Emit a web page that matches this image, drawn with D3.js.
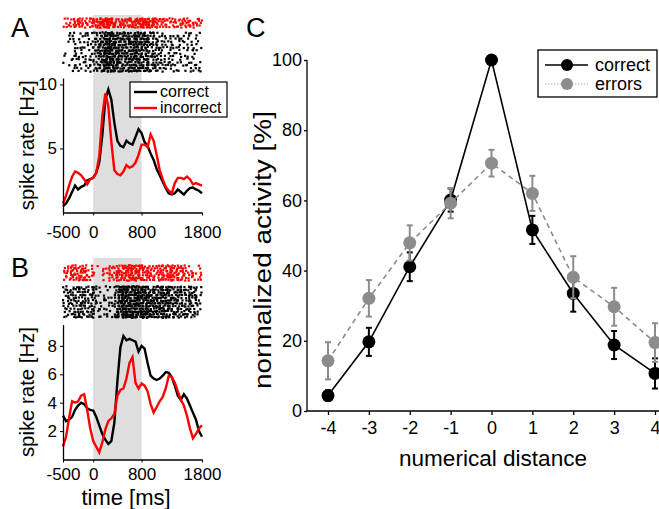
<!DOCTYPE html>
<html>
<head>
<meta charset="utf-8">
<script src="https://cdn.jsdelivr.net/npm/d3@7"></script>
<style>
body{margin:0;background:#fff;}
svg{display:block;font-family:"Liberation Sans",Arial,sans-serif;}
</style>
</head>
<body>
<div class="fig"></div>
<script>
var width = 659,
	height = 509;

// time axis of the spike rate curves (ms)
var times = [-500,-450,-400,-350,-300,-250,-200,-150,-100,-50,0,50,100,150,200,250,300,350,400,450,500,550,600,650,700,750,800,850,900,950,1000,1050,1100,1150,1200,1250,1300,1350,1400,1450,1500,1550,1600,1650,1700,1750,1800];
var timeTicks = [-500,0,800,1800];
var stimWindow = [0,800];

// panel A spike rate [Hz]
var rateA_correct = [0.5,0.7,1.1,1.6,2.1,1.8,2.0,2.1,2.5,2.6,2.7,3.1,3.9,6.0,8.8,9.6,8.8,7.0,5.6,5.2,5.1,5.6,5.4,5.3,5.9,6.5,6.2,5.5,5.2,4.6,4.1,3.4,2.9,2.4,1.9,1.5,1.4,1.5,1.8,1.6,1.4,1.7,1.9,1.95,1.8,1.7,1.5];
var rateA_incorrect = [0.7,1.3,2.1,2.8,3.2,3.1,2.9,2.6,2.2,2.6,2.7,3.1,4.4,7.5,9.3,8.3,5.5,3.3,3.0,2.9,3.2,3.7,3.5,3.6,3.9,4.5,5.3,5.3,5.1,6.1,5.6,4.5,3.3,2.6,2.0,1.7,1.5,2.3,2.7,2.7,2.6,2.8,2.6,2.2,2.3,2.2,2.1];
var ticksA = [5,10];

// panel B spike rate [Hz]
var rateB_correct = [3.1,2.7,2.8,3.0,3.5,3.8,4.0,3.9,3.6,3.5,3.45,3.0,2.4,1.8,1.4,1.1,1.3,2.6,5.5,7.9,8.7,8.4,8.5,8.4,8.3,7.6,8.0,7.8,6.8,5.9,5.7,5.6,5.7,5.9,6.15,6.1,5.8,5.2,4.5,4.2,4.6,4.3,3.8,3.3,2.8,2.0,1.6];
var rateB_incorrect = [0.9,1.6,2.9,4.1,4.0,4.1,4.5,4.6,3.5,2.2,1.3,0.9,0.5,1.2,2.1,2.7,2.9,3.2,4.5,4.9,5.0,5.7,6.8,7.2,5.4,5.0,5.35,5.2,4.8,3.9,3.3,3.7,4.1,4.4,5.0,5.9,5.8,5.4,4.8,4.2,3.8,3.1,2.2,1.5,1.8,2.2,2.4];
var ticksB = [2,4,6,8];

// panel C normalized activity [%] with error bars
var distances = [-4,-3,-2,-1,0,1,2,3,4];
var correctMean = [4.4,19.7,41.1,60.1,100,51.6,33.5,18.8,10.7];
var correctErr = [1.5,4.0,4.1,3.3,0,4.0,5.2,4.0,4.3];
var errorsMean = [14.3,32.1,47.9,59.2,70.6,62.0,38.1,29.7,19.5];
var errorsErr = [5.3,5.2,5.0,4.3,3.8,5.0,6.0,5.4,5.5];
var ticksC = [0,20,40,60,80,100];

var svg = d3.select(".fig").append("svg").attr("width", width).attr("height", height);
var plain = function(d){return String(d);};

function hash(a,b,c){
	var h = (a*73856093) ^ (b*19349663) ^ (c*83492791);
	h = Math.imul(h ^ (h>>>13), 1274126177);
	h ^= h>>>16;
	return (h>>>0)/4294967296;
}

// raster dots: density per 50 ms cell follows the rate curve of the same condition
function rasterDots(rates, rows, k, seed){
	var pts = [];
	for(var r=0; r<rows; r++){
		for(var b=0; b<times.length-1; b++){
			var e = (rates[b]+rates[b+1])/2*k;
			var n = Math.floor(e) + (hash(r,b,seed) < e%1 ? 1 : 0);
			for(var j=0; j<n; j++){
				pts.push({t: times[b] + hash(r,b,seed+j*7+1)*50, row: r, dy: hash(r,b,seed+j*7+3)-0.5});
			}
		}
	}
	return pts;
}

function ratePanel(p){
	var x = d3.scaleLinear().domain([-500,1800]).range([63,202]);
	var y = d3.scaleLinear().domain(p.ydom).range([p.y0, p.y1]);
	var g = svg.append("g");

	g.append("rect").attr("x", x(stimWindow[0])).attr("y", p.shadeTop)
		.attr("width", x(stimWindow[1])-x(stimWindow[0])).attr("height", p.y0-p.shadeTop)
		.attr("fill", "#dedede");

	p.rasters.forEach(function(ra){
		var pts = rasterDots(ra.rates, ra.rows, ra.k, ra.seed);
		var step = (ra.bottom-ra.top)/(ra.rows-1);
		g.append("g").selectAll("rect").data(pts).enter().append("rect")
			.attr("x", function(d){return x(d.t)-1.1;})
			.attr("y", function(d){return ra.top + d.row*step + d.dy*1.4 - 1.1;})
			.attr("width", 2.2).attr("height", 2.2)
			.attr("fill", ra.color);
	});

	var line = d3.line().x(function(d,i){return x(times[i]);}).y(function(d){return y(d);});
	g.append("path").attr("d", line(p.correct)).attr("fill","none").attr("stroke","#000").attr("stroke-width",2.4);
	g.append("path").attr("d", line(p.incorrect)).attr("fill","none").attr("stroke","#f00").attr("stroke-width",2.4);

	var ax = g.append("g").attr("transform","translate(0,"+p.y0+")")
		.call(d3.axisBottom(x).tickValues(timeTicks).tickFormat(plain).tickSize(3).tickSizeOuter(0).tickPadding(p.xpad));
	var ay = g.append("g").attr("transform","translate(63,0)")
		.call(d3.axisLeft(y).tickValues(p.yticks).tickFormat(plain).tickSize(3).tickSizeOuter(0).tickPadding(3));
	[ax,ay].forEach(function(a){
		a.select(".domain").attr("stroke-width",1.3);
		a.selectAll("text").attr("font-size",17).attr("font-family","Liberation Sans, Arial, sans-serif").attr("fill","#000");
	});

	g.append("text").attr("transform","translate(27,"+((p.y0+p.y1)/2)+") rotate(-90)")
		.attr("text-anchor","middle").attr("dy","0.35em").attr("font-size",21)
		.attr("textLength",130).attr("lengthAdjust","spacingAndGlyphs").text("spike rate [Hz]");
	g.append("text").attr("x",11).attr("y",p.labelY).attr("font-size",27).text(p.label);

	if(p.legend){
		var lg = g.append("g");
		lg.append("rect").attr("x",130).attr("y",82).attr("width",97).attr("height",35)
			.attr("fill","#fff").attr("stroke","#000").attr("stroke-width",1.2);
		[["correct","#000"],["incorrect","#f00"]].forEach(function(d,i){
			var yy = 92 + i*16;
			lg.append("line").attr("x1",134).attr("x2",157).attr("y1",yy).attr("y2",yy).attr("stroke",d[1]).attr("stroke-width",2.4);
			lg.append("text").attr("x",160).attr("y",yy).attr("dy","0.33em").attr("font-size",16).text(d[0]);
		});
	}
}

ratePanel({label:"A", labelY:37, ydom:[0,10.5], y0:212.5, y1:78, shadeTop:15, yticks:ticksA, xpad:10,
	correct:rateA_correct, incorrect:rateA_incorrect, legend:true,
	rasters:[{rates:rateA_incorrect, rows:5, top:19, bottom:27, k:0.35, color:"#f00", seed:11},
		{rates:rateA_correct, rows:14, top:33, bottom:71, k:0.3, color:"#000", seed:23}]});

ratePanel({label:"B", labelY:277, ydom:[0,9.5], y0:459.5, y1:324.6, shadeTop:258, yticks:ticksB, xpad:5,
	correct:rateB_correct, incorrect:rateB_incorrect, legend:false,
	rasters:[{rates:rateB_incorrect, rows:7, top:266, bottom:280, k:0.28, color:"#f00", seed:37},
		{rates:rateB_correct, rows:12, top:287, bottom:317, k:0.3, color:"#000", seed:53}]});

svg.append("text").attr("x",126).attr("y",498).attr("text-anchor","middle").attr("dy","0.33em")
	.attr("font-size",22).text("time [ms]");

// panel C
var xC = d3.scaleLinear().domain([-4,4]).range([328,655]);
var yC = d3.scaleLinear().domain([0,100]).range([411,60]);
var gC = svg.append("g");

gC.append("line").attr("x1",307).attr("x2",307).attr("y1",60).attr("y2",411).attr("stroke","#000").attr("stroke-width",1.3);
gC.append("line").attr("x1",307).attr("x2",659).attr("y1",411).attr("y2",411).attr("stroke","#000").attr("stroke-width",1.3);
var axC = gC.append("g").attr("transform","translate(0,411)")
	.call(d3.axisBottom(xC).tickValues(distances).tickFormat(plain).tickSize(4).tickPadding(6));
var ayC = gC.append("g").attr("transform","translate(307,0)")
	.call(d3.axisLeft(yC).tickValues(ticksC).tickFormat(plain).tickSize(3).tickPadding(2));
[axC,ayC].forEach(function(a){
	a.select(".domain").remove();
	a.selectAll("line").attr("stroke-width",1.3);
	a.selectAll("text").attr("font-size",18).attr("font-family","Liberation Sans, Arial, sans-serif").attr("fill","#000");
});

function series(mean, err, color, dash){
	var line = d3.line().x(function(d,i){return xC(distances[i]);}).y(function(d){return yC(d);});
	var g = gC.append("g");
	g.append("path").attr("d", line(mean)).attr("fill","none").attr("stroke",color).attr("stroke-width",1.6)
		.attr("stroke-dasharray", dash);
	var pts = mean.map(function(d,i){return {x: distances[i], m: d, e: err[i]};}).filter(function(d){return d.e>0;});
	var bars = g.selectAll(".eb").data(pts).enter().append("g");
	bars.append("line")
		.attr("x1",function(d){return xC(d.x);}).attr("x2",function(d){return xC(d.x);})
		.attr("y1",function(d){return yC(d.m+d.e);}).attr("y2",function(d){return yC(d.m-d.e);})
		.attr("stroke",color).attr("stroke-width",2);
	[1,-1].forEach(function(s){
		bars.append("line")
			.attr("x1",function(d){return xC(d.x)-3;}).attr("x2",function(d){return xC(d.x)+3;})
			.attr("y1",function(d){return yC(d.m+s*d.e);}).attr("y2",function(d){return yC(d.m+s*d.e);})
			.attr("stroke",color).attr("stroke-width",2);
	});
	g.selectAll("circle").data(mean).enter().append("circle")
		.attr("cx",function(d,i){return xC(distances[i]);})
		.attr("cy",function(d){return yC(d);})
		.attr("r",6.5).attr("fill",color);
}
series(correctMean, correctErr, "#000", null);
series(errorsMean, errorsErr, "#8c8c8c", "5,4");

// legend C
var lgC = gC.append("g");
lgC.append("rect").attr("x",538).attr("y",50).attr("width",119).attr("height",47)
	.attr("fill","#fff").attr("stroke","#000").attr("stroke-width",1.3);
lgC.append("line").attr("x1",545).attr("x2",588).attr("y1",65).attr("y2",65).attr("stroke","#000").attr("stroke-width",1.6);
lgC.append("circle").attr("cx",567).attr("cy",65).attr("r",6).attr("fill","#000");
lgC.append("line").attr("x1",545).attr("x2",588).attr("y1",84).attr("y2",84).attr("stroke","#aaa").attr("stroke-width",1).attr("stroke-dasharray","1.5,1.5");
lgC.append("circle").attr("cx",567).attr("cy",84).attr("r",6).attr("fill","#8c8c8c");
lgC.append("text").attr("x",595).attr("y",65).attr("dy","0.35em").attr("font-size",18).text("correct");
lgC.append("text").attr("x",595).attr("y",84).attr("dy","0.35em").attr("font-size",18).text("errors");

gC.append("text").attr("transform","translate(263,250) rotate(-90)").attr("text-anchor","middle").attr("dy","0.35em")
	.attr("font-size",23).attr("textLength",278).attr("lengthAdjust","spacingAndGlyphs").text("normalized activity [%]");
gC.append("text").attr("x",493).attr("y",458).attr("text-anchor","middle").attr("dy","0.35em")
	.attr("font-size",22).attr("textLength",188).attr("lengthAdjust","spacingAndGlyphs").text("numerical distance");
gC.append("text").attr("x",246).attr("y",37).attr("font-size",27).text("C");
</script>
</body>
</html>
